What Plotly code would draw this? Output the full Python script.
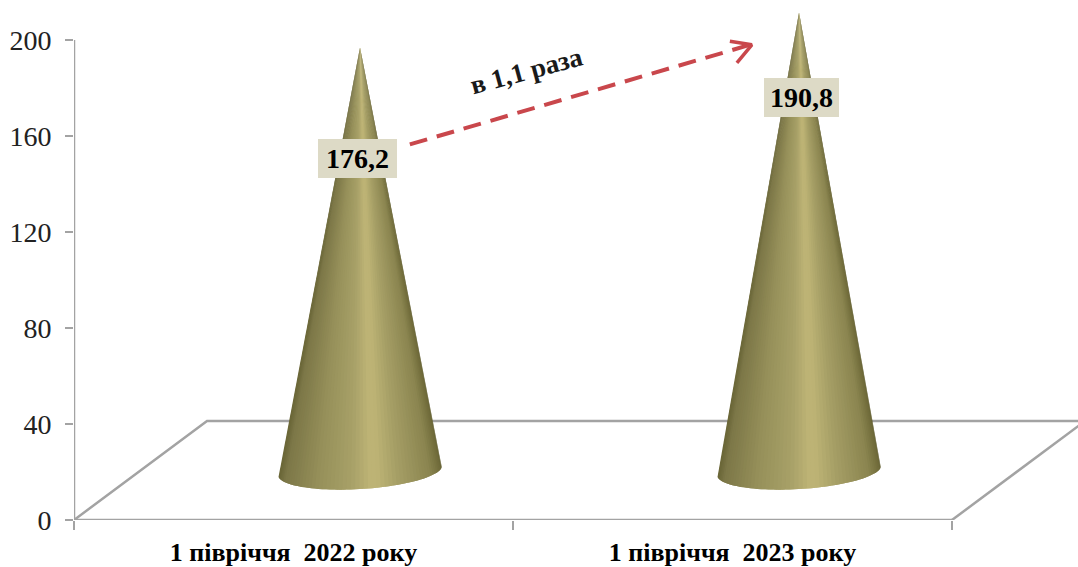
import numpy as np
import plotly.graph_objects as go

# Data
categories = ["1 півріччя \u00a02022 року", "1 півріччя \u00a02023 року"]
values = [176.2, 190.8]
value_labels = ["176,2", "190,8"]
y_ticks = [0, 40, 80, 120, 160, 200]
category_edges = [0, 1, 2]
ratio_label = "в 1,1 раза"

# Chart style constants
PX_X = 439.0   # pixels per x unit
PX_Y = 2.4     # pixels per y unit
DEPTH_X, DEPTH_Y = 0.303, 41.25
Y_MAX = 520 / PX_Y
X_MAX = 1004 / PX_X
GREY = "#a3a3a3"
FONT = "Liberation Serif"

fig = go.Figure()


def line(xs, ys, color=GREY, width=2.5, dash=None):
    fig.add_trace(go.Scatter(x=xs, y=ys, mode="lines", hoverinfo="skip", showlegend=False, cliponaxis=False,
                             line=dict(color=color, width=width, dash=dash, simplify=False)))


# Floor and axes
line([0, DEPTH_X, 2 + DEPTH_X], [0, DEPTH_Y, DEPTH_Y])
line([2, 2 + DEPTH_X], [0, DEPTH_Y])
line([0, 2], [0, 0])
line([0, 0], [0, 200])

# Cone shading (position across the cone -> colour)
stops = [-1.0, -0.95, -0.6, -0.2, 0.02, 0.12, 0.4, 0.8, 0.96, 1.0]
reds = [0x6a, 0x7d, 0x96, 0xa8, 0xbd, 0xbd, 0xa4, 0x8b, 0x6f, 0x5e]
grns = [0x66, 0x78, 0x90, 0xa1, 0xb3, 0xb3, 0x9d, 0x85, 0x6b, 0x5a]
blus = [0x38, 0x48, 0x5a, 0x68, 0x75, 0x75, 0x65, 0x50, 0x3a, 0x2e]


def shade(r):
    return "rgb(%d,%d,%d)" % (np.interp(r, stops, reds), np.interp(r, stops, grns), np.interp(r, stops, blus))


U = (81.5 / PX_X, 6.5 / PX_Y)
V = (8 / PX_X, -18 / PX_Y)
ts = np.linspace(0, np.pi, 61)
for i, v in enumerate(values):
    cx = category_edges[i] + 0.5 + DEPTH_X / 2
    cy = DEPTH_Y / 2
    apex = (cx, cy + v)
    ex = cx + U[0] * np.cos(ts) + V[0] * np.sin(ts)
    ey = cy + U[1] * np.cos(ts) + V[1] * np.sin(ts)
    for j in range(len(ts) - 1):
        c = shade(np.cos((ts[j] + ts[j + 1]) / 2))
        k = min(j + 3, len(ts))  # overlap the next wedge so no seams appear
        fig.add_trace(go.Scatter(x=[apex[0], *ex[j:k], apex[0]],
                                 y=[apex[1], *ey[j:k], apex[1]],
                                 mode="lines", fill="toself", fillcolor=c, hoverinfo="skip",
                                 showlegend=False, line=dict(color=c, width=0)))

# Dashed growth arrow
RED = "#c9474c"
line([0.765, 1.540], [156.5, 198], RED, 4, "18px,10px")
line([1.494, 1.544, 1.510], [199.5, 198, 190.5], RED, 3.5)

# Value labels
label_boxes = [(318, 397, 139, 178), (764, 839, 78, 117)]
shapes = []
for (l, r, t, b), txt in zip(label_boxes, value_labels):
    x0, x1 = (l - 74) / PX_X, (r - 74) / PX_X
    y0, y1 = (520 - b) / PX_Y, (520 - t) / PX_Y
    shapes.append(dict(type="rect", x0=x0, x1=x1, y0=y0, y1=y1, fillcolor="#dddac6",
                       line=dict(width=0), layer="above"))
    fig.add_annotation(x=(x0 + x1) / 2, y=(y0 + y1) / 2, text="<b>%s</b>" % txt, showarrow=False,
                       font=dict(family=FONT, size=28, color="#000"))
fig.add_annotation(x=1.03, y=187, text="<b>%s</b>" % ratio_label, showarrow=False, textangle=-15,
                   font=dict(family=FONT, size=27, color="#1a1a1a"))

fig.update_layout(
    width=1078, height=567, margin=dict(l=74, r=0, t=0, b=47, pad=0),
    paper_bgcolor="white", plot_bgcolor="white", showlegend=False, shapes=shapes,
    xaxis=dict(range=[0, X_MAX], showgrid=False, zeroline=False, showline=False, automargin=False,
               tickmode="array", tickvals=[0.5, 1.5], ticktext=["<b>%s</b>" % c for c in categories],
               ticks="outside", ticklen=9, tickcolor="rgba(0,0,0,0)",
               tickfont=dict(family=FONT, size=26, color="#000"),
               minor=dict(tickmode="array", tickvals=category_edges, ticks="outside", ticklen=9,
                          tickwidth=2, tickcolor=GREY, showgrid=False)),
    yaxis=dict(range=[0, Y_MAX], showgrid=False, zeroline=False, showline=False, automargin=False,
               tickmode="array", tickvals=y_ticks, ticks="outside", ticklen=8, tickwidth=2,
               tickcolor=GREY, tickfont=dict(family=FONT, size=28, color="#222"), ticklabelstandoff=8),
)

fig.write_html("out.html", config=dict(displayModeBar=False),
               post_script="document.body.style.margin='0';")
